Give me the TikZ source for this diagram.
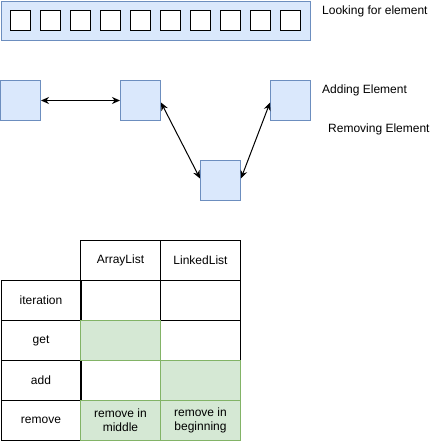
\documentclass[tikz,border=0pt]{standalone}
\usepackage{fontspec}
\setmainfont{Liberation Sans}
\usetikzlibrary{arrows.meta}
\definecolor{bfill}{HTML}{DAE8FC}
\definecolor{bline}{HTML}{6C8EBF}
\definecolor{gfill}{HTML}{D5E8D4}
\definecolor{gline}{HTML}{82B366}
\begin{document}
\begin{tikzpicture}[x=1pt,y=-1pt,
  bluebox/.style={draw=bline,fill=bfill,line width=1pt},
  cellbox/.style={draw=black,line width=1pt},
  greencell/.style={draw=gline,fill=gfill,line width=1pt},
  txt/.style={font=\fontsize{12}{14}\selectfont,inner sep=0pt},
  link/.style={line width=1pt,{Stealth[length=8pt,width=7pt]}-{Stealth[length=8pt,width=7pt]}}]
\useasboundingbox (0,0) rectangle (432,442);
% array
\node[bluebox,minimum width=309pt,minimum height=39pt,inner sep=0pt,anchor=north west] (arr) at (0.5,0.5) {};
\foreach \i in {0,...,9}{
  \node[cellbox,fill=white,minimum width=20pt,minimum height=20pt,inner sep=0pt,anchor=north west] (c\i) at (10+30*\i,10) {};
}
% linked list
\node[bluebox,minimum width=40pt,minimum height=40pt,inner sep=0pt,anchor=north west] (l1) at (0,80) {};
\node[bluebox,minimum width=40pt,minimum height=40pt,inner sep=0pt,anchor=north west] (l2) at (120,80) {};
\node[bluebox,minimum width=40pt,minimum height=40pt,inner sep=0pt,anchor=north west] (l3) at (200,160) {};
\node[bluebox,minimum width=40pt,minimum height=40pt,inner sep=0pt,anchor=north west] (l4) at (270,80) {};
\coordinate (p2r) at ([yshift=-2pt]l2.east);
\coordinate (p4l) at ([yshift=-2pt]l4.west);
\coordinate (p3l) at ([yshift=2pt]l3.west);
\coordinate (p3r) at ([yshift=2pt]l3.east);
\draw[link] (l1.east) -- (l2.west);
\draw[link] (p2r) -- (p3l);
\draw[link] (p3r) -- (p4l);
% legend texts
\node[txt,anchor=west] (t1) at (322,11) {Looking for element};
\node[txt,anchor=west] (t2) at (322,90) {Adding Element};
\node[txt,anchor=west] (t3) at (328,129) {Removing Element};
% table
\tikzset{cell/.style={cellbox,minimum width=80pt,minimum height=40pt,inner sep=0pt,anchor=north west,font=\fontsize{12}{14}\selectfont,align=center},
  gcell/.style={cell,greencell}}
\node[cell] (h1) at (80,240) {ArrayList};
\node[cell] (h2) at (160,240) {LinkedList};
\node[cell] (r1) at (0.5,280) {iteration};
\node[cell] (r1a) at (80,280) {};
\node[cell] (r1b) at (160,280) {};
\node[cell] (r2) at (0.5,320) {get};
\node[cell] (r2b) at (160,320) {};
\node[cell] (r3) at (0.5,360) {add};
\node[cell] (r3a) at (80,360) {};
\node[cell] (r4) at (0.5,400) {remove};
\node[gcell] (r2a) at (80,320) {};
\node[gcell] (r3b) at (160,360) {};
\node[gcell] (r4a) at (80,400) {remove in\\middle};
\node[gcell] (r4b) at (160,400) {remove in\\beginning};
\end{tikzpicture}
\end{document}
